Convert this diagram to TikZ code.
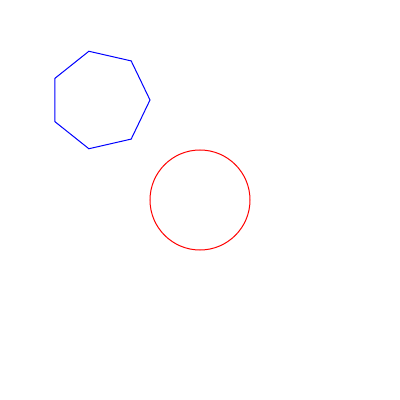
\documentclass[tikz,border=0pt]{standalone}
\usetikzlibrary{calc}
\begin{document}
\begin{tikzpicture}[x=1pt,y=1pt,
  shapeline/.style={line width=1pt, line join=miter}]
\useasboundingbox[fill=white] (0,0) rectangle (400,400);
% red circle centred at (200,200), radius 50
\coordinate (cc) at (200,200);
\draw[shapeline, red] (cc) circle[radius=50];
% blue regular heptagon centred at (100,300), radius 50, vertex at angle 0
\coordinate (hc) at (100,300);
\draw[shapeline, blue]
  ($(hc)+(0:50)$) \foreach \k in {1,...,6} { -- ($(hc)+({\k*360/7}:50)$) } -- cycle;
\end{tikzpicture}
\end{document}
